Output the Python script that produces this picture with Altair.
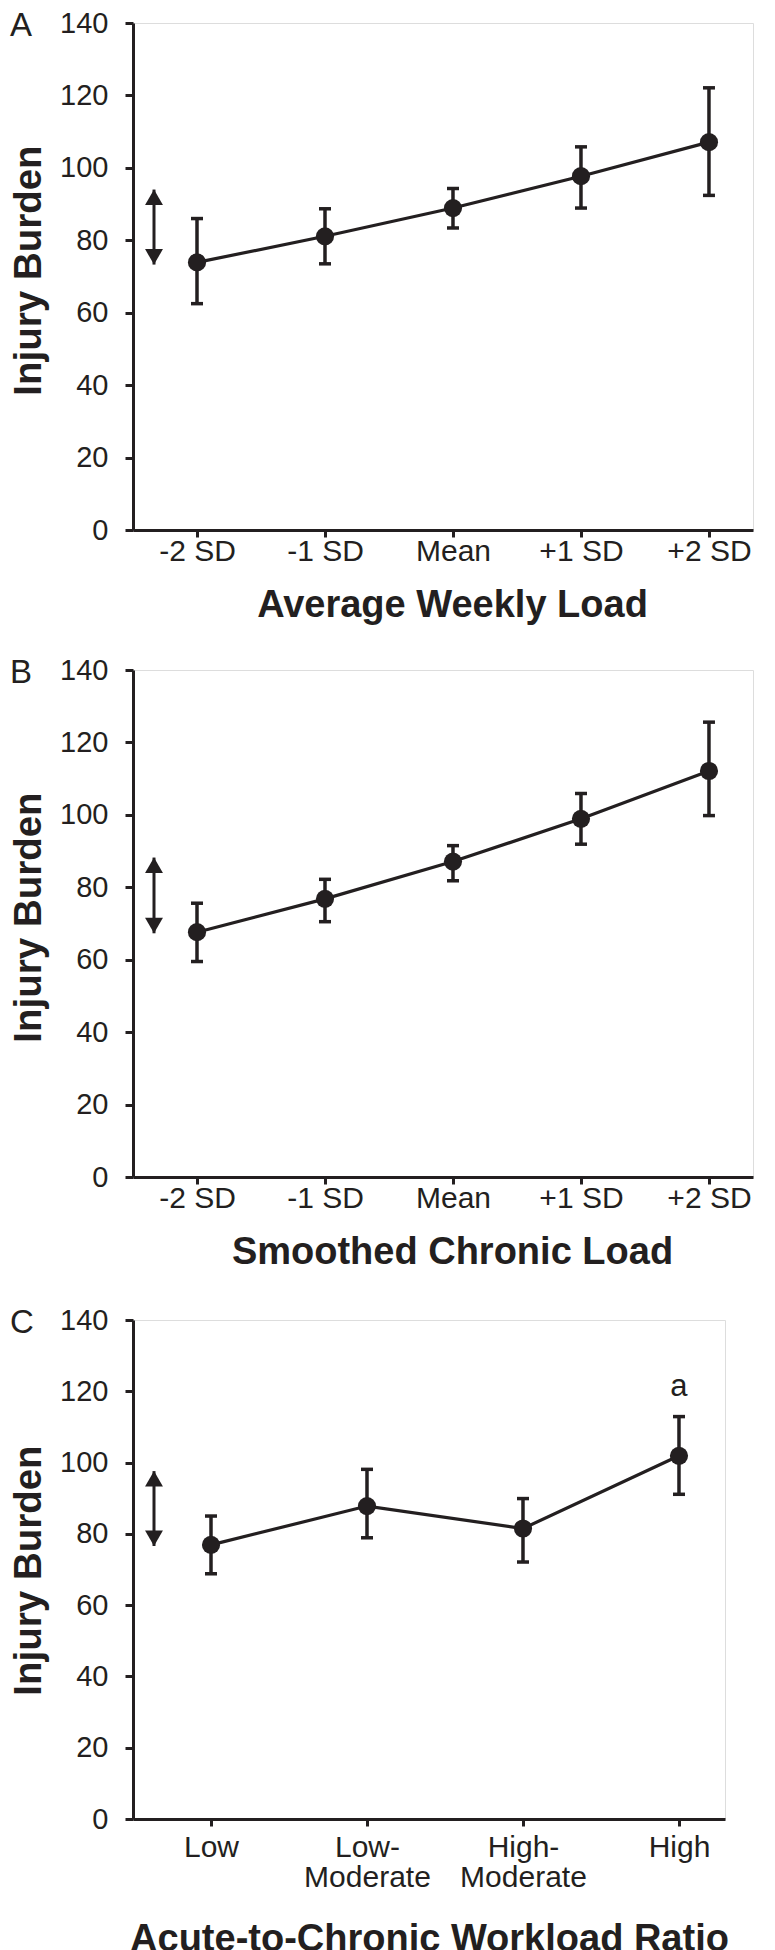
import altair as alt
import pandas as pd

INK = "#231f20"
FONT = "Liberation Sans"

# ---- Panel A: Average Weekly Load ----
a_cats = ["-2 SD", "-1 SD", "Mean", "+1 SD", "+2 SD"]
a_mean = [73.9, 81.1, 88.9, 97.7, 107.1]
a_low = [62.5, 73.5, 83.4, 88.9, 92.4]
a_high = [86.0, 88.7, 94.3, 105.8, 122.1]
a_arrow = [73.3, 94.0]

# ---- Panel B: Smoothed Chronic Load ----
b_cats = ["-2 SD", "-1 SD", "Mean", "+1 SD", "+2 SD"]
b_mean = [67.6, 76.8, 87.1, 98.9, 112.1]
b_low = [59.5, 70.5, 81.8, 91.9, 99.8]
b_high = [75.6, 82.2, 91.5, 105.9, 125.6]
b_arrow = [67.3, 88.2]

# ---- Panel C: Acute-to-Chronic Workload Ratio ----
c_cats = ["Low", "Low-|Moderate", "High-|Moderate", "High"]
c_mean = [76.9, 87.8, 81.5, 101.9]
c_low = [68.8, 78.9, 72.1, 91.1]
c_high = [85.0, 98.1, 89.9, 112.9]
c_arrow = [76.6, 97.6]
c_sig = ["", "", "", "a"]

y_ticks = [0, 20, 40, 60, 80, 100, 120, 140]


def panel(letter, cats, mean, low, high, arrow, xtitle, xmax, width, height,
          sig=None, label_pad=28, title_y=86, title_x=None, ytitle_y=None):
    n = len(cats)
    df = pd.DataFrame({
        "pos": list(range(1, n + 1)),
        "mean": mean, "low": low, "high": high,
        "sig": sig if sig else [""] * n,
    })
    arr = pd.DataFrame({"lo": [arrow[0]], "hi": [arrow[1]]})
    js = "[" + ",".join("'" + c + "'" for c in cats) + "]"
    label_expr = "split(" + js + "[datum.value - 1], '|')"

    xaxis_kw = dict(
        values=list(range(1, n + 1)), labelExpr=label_expr, grid=False,
        tickSize=7, tickWidth=3, domainWidth=3, domainColor=INK, tickColor=INK,
        labelFont=FONT, labelFontSize=30, labelColor=INK, labelBaseline="alphabetic",
        labelPadding=label_pad, labelLineHeight=30, labelFlush=False, labelOverlap=False,
        title=xtitle, titleFont=FONT, titleFontSize=38, titleFontWeight="bold",
        titleColor=INK, titleBaseline="alphabetic", titleY=title_y,
    )
    if title_x is not None:
        xaxis_kw["titleX"] = title_x
        xaxis_kw["titleAlign"] = "center"
    x = alt.X("pos:Q", scale=alt.Scale(domain=[0.5, xmax], nice=False, zero=False),
              axis=alt.Axis(**xaxis_kw))
    y = alt.Y("mean:Q", scale=alt.Scale(domain=[0, 140], nice=False),
              axis=alt.Axis(values=y_ticks, grid=False, tickSize=8, tickWidth=3,
                            domainWidth=3, domainColor=INK, tickColor=INK,
                            labelFont=FONT, labelFontSize=29, labelColor=INK,
                            labelPadding=17, labelFlush=False,
                            title="Injury Burden", titleFont=FONT, titleFontSize=38.5,
                            titleFontWeight="bold", titleColor=INK, titleAngle=270,
                            titleBaseline="alphabetic", titleAlign="center",
                            titleX=-93, titleY=ytitle_y if ytitle_y else height / 2))

    base = alt.Chart(df)
    line = base.mark_line(color=INK, strokeWidth=3.2).encode(x=x, y=y)
    bars = base.mark_rule(color=INK, strokeWidth=3.5).encode(x="pos:Q", y="low:Q", y2="high:Q")
    cap_lo = base.mark_tick(orient="horizontal", size=12, thickness=3.5, color=INK,
                            opacity=1).encode(x="pos:Q", y="low:Q")
    cap_hi = base.mark_tick(orient="horizontal", size=12, thickness=3.5, color=INK,
                            opacity=1).encode(x="pos:Q", y="high:Q")
    pts = base.mark_circle(size=330, color=INK, opacity=1).encode(x="pos:Q", y="mean:Q")
    sig_t = base.mark_text(font=FONT, fontSize=31, color=INK, baseline="alphabetic",
                           dy=-21).encode(x="pos:Q", y="high:Q", text="sig:N")

    ab = alt.Chart(arr)
    shaft = ab.mark_rule(color=INK, strokeWidth=3).encode(
        x=alt.value(21), y="lo:Q", y2="hi:Q")
    head_up = ab.mark_point(shape="triangle-up", filled=True, size=320, color=INK,
                            opacity=1, yOffset=7.7).encode(x=alt.value(21), y="hi:Q")
    head_dn = ab.mark_point(shape="triangle-down", filled=True, size=320, color=INK,
                            opacity=1, yOffset=-7.7).encode(x=alt.value(21), y="lo:Q")

    lab = alt.Chart(pd.DataFrame({"t": [letter]})).mark_text(
        font=FONT, fontSize=33, color=INK, align="left", baseline="alphabetic"
    ).encode(text="t:N", x=alt.value(-123), y=alt.value(13))

    layers = [line, bars, cap_lo, cap_hi, pts, shaft, head_up, head_dn, lab]
    if sig:
        layers.append(sig_t)
    return alt.layer(*layers).properties(width=width, height=height)


pa = panel("A", a_cats, a_mean, a_low, a_high, a_arrow, "Average Weekly Load",
           5.344, 620, 507, label_pad=23, title_x=319, ytitle_y=247)
pb = panel("B", b_cats, b_mean, b_low, b_high, b_arrow, "Smoothed Chronic Load",
           5.344, 620, 507, label_pad=23, title_x=319, ytitle_y=247)
pc = panel("C", c_cats, c_mean, c_low, c_high, c_arrow, "Acute-to-Chronic Workload Ratio",
           4.295, 592, 499, sig=c_sig, label_pad=30, title_y=131, ytitle_y=250)

chart = alt.vconcat(alt.vconcat(pa, pb, spacing=30), pc, spacing=33).properties(
    padding={"left": 0, "top": 0, "right": 0, "bottom": 0}
).configure_view(stroke=None).configure(background="white")

chart.save("out.html", embed_options={"renderer": "svg", "actions": False})
